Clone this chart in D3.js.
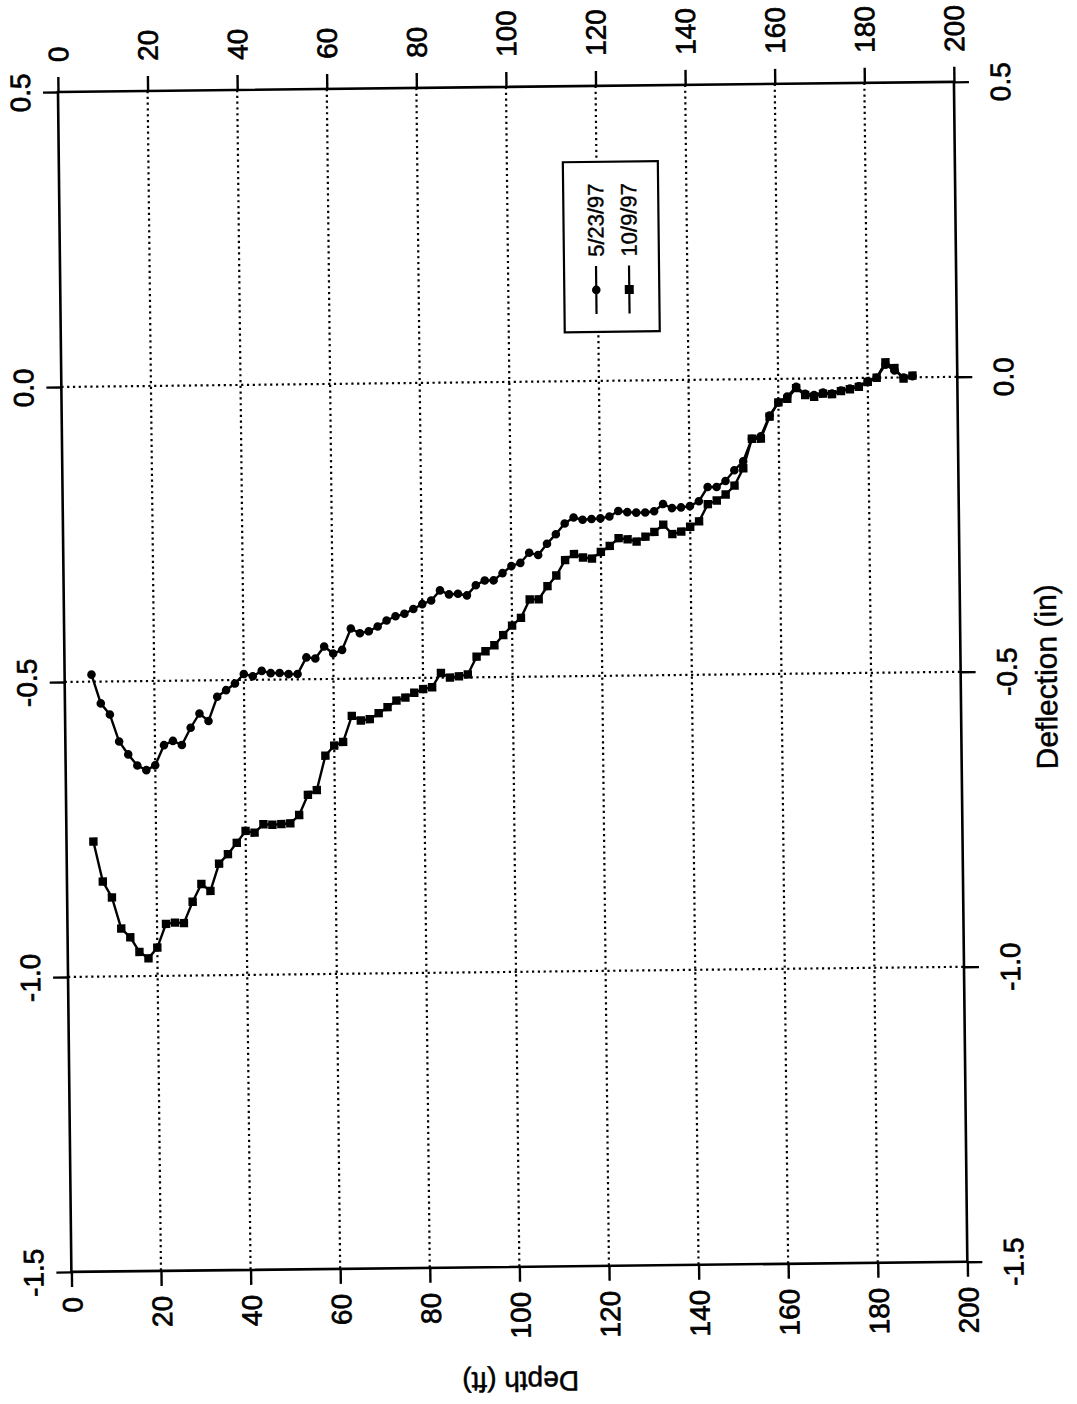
<!DOCTYPE html>
<html>
<head>
<meta charset="UTF-8">
<style>
  body { margin: 0; background: #fff; }
  svg { display: block; font-family: "Liberation Sans", Arial, sans-serif; }
</style>
</head>
<body>
<svg></svg>
<script src="https://d3js.org/d3.v7.min.js"></script>
<script>
// depth (ft) of each reading
const depth = [6, 8, 10, 12, 14, 16, 18, 20, 22, 24, 26, 28, 30, 32, 34, 36, 38, 40, 42, 44, 46, 48, 50, 52, 54,
  56, 58, 60, 62, 64, 66, 68, 70, 72, 74, 76, 78, 80, 82, 84, 86, 88, 90, 92, 94, 96, 98, 100, 102, 104, 106, 108, 110,
  112, 114, 116, 118, 120, 122, 124, 126, 128, 130, 132, 134, 136, 138, 140, 142, 144, 146, 148, 150, 152, 154, 156, 158,
  160, 162, 164, 166, 168, 170, 172, 174, 176, 178, 180, 182, 184, 186, 188, 190];

// deflection (in), 5/23/97
const defl0523 = [-0.488, -0.537, -0.556, -0.602, -0.624, -0.643, -0.651, -0.643, -0.609, -0.602, -0.609, -0.580, -0.556,
  -0.569, -0.528, -0.517, -0.506, -0.490, -0.494, -0.485, -0.489, -0.489, -0.491, -0.491, -0.463,
  -0.465, -0.445, -0.457, -0.451, -0.415, -0.423, -0.420, -0.412, -0.402, -0.395, -0.391, -0.383, -0.375, -0.369,
  -0.352, -0.359, -0.358, -0.361, -0.344, -0.336, -0.336, -0.324, -0.312, -0.307, -0.290, -0.294, -0.275, -0.259,
  -0.241, -0.231, -0.235, -0.234, -0.233, -0.230, -0.221, -0.223, -0.224, -0.224, -0.222, -0.210, -0.217, -0.216,
  -0.214, -0.206, -0.182, -0.182, -0.172, -0.154, -0.139, -0.101, -0.097, -0.062,
  -0.040, -0.030, -0.014, -0.026, -0.028, -0.024, -0.026, -0.021, -0.018, -0.014, -0.006, 0.000, 0.022, 0.012, 0.000, 0.002];

// deflection (in), 10/9/97
const defl1009 = [-0.771, -0.839, -0.866, -0.919, -0.934, -0.959, -0.970, -0.952, -0.912, -0.910, -0.911, -0.875, -0.845,
  -0.857, -0.811, -0.795, -0.776, -0.756, -0.759, -0.745, -0.746, -0.745, -0.744, -0.730, -0.696,
  -0.688, -0.630, -0.613, -0.607, -0.563, -0.571, -0.569, -0.559, -0.549, -0.538, -0.533, -0.525, -0.519, -0.516,
  -0.492, -0.500, -0.498, -0.495, -0.465, -0.456, -0.446, -0.429, -0.413, -0.400, -0.369, -0.369, -0.347, -0.329,
  -0.303, -0.293, -0.299, -0.301, -0.290, -0.280, -0.267, -0.269, -0.273, -0.265, -0.257, -0.245, -0.261, -0.257,
  -0.249, -0.240, -0.211, -0.205, -0.195, -0.180, -0.151, -0.101, -0.101, -0.064,
  -0.040, -0.034, -0.016, -0.028, -0.031, -0.026, -0.027, -0.022, -0.019, -0.015, -0.007, 0.000, 0.026, 0.016, -0.002, 0.003];

const seriesNames = ["5/23/97", "10/9/97"];
const depthTicks = [0, 20, 40, 60, 80, 100, 120, 140, 160, 180, 200];
const deflTicks = [0.5, 0.0, -0.5, -1.0, -1.5];
const depthGrid = [20, 40, 60, 80, 100, 120, 140, 160, 180];
const deflGrid = [0.0, -0.5, -1.0];

const width = 1077, height = 1404;
const W = 896, H = 1180;

const svg = d3.select("svg").attr("width", width).attr("height", height);
svg.append("rect").attr("width", width).attr("height", height).attr("fill", "#fff");

// the scanned page is slightly tilted
const g = svg.append("g").attr("transform", "translate(58,92) rotate(-0.65)");

const x = d3.scaleLinear().domain([0, 200]).range([0, W]);
const y = d3.scaleLinear().domain([-1.5, 0.5]).range([H, 0]);

// dotted grid
g.append("g").selectAll("line")
  .data(depthGrid).enter().append("line")
  .attr("x1", d => x(d)).attr("x2", d => x(d))
  .attr("y1", 0).attr("y2", H)
  .attr("stroke", "#000").attr("stroke-width", 2.2)
  .attr("stroke-dasharray", "2.2,3.6");
g.append("g").selectAll("line")
  .data(deflGrid).enter().append("line")
  .attr("x1", 0).attr("x2", W)
  .attr("y1", d => y(d)).attr("y2", d => y(d))
  .attr("stroke", "#000").attr("stroke-width", 2.2)
  .attr("stroke-dasharray", "2.2,3.6");

// axes (ticks + rotated labels)
function styleAxis(sel, tx, ty, anchor, dy) {
  sel.select(".domain").remove();
  sel.selectAll(".tick line").attr("stroke", "#000").attr("stroke-width", 2.4);
  sel.selectAll(".tick text")
    .attr("x", 0).attr("y", 0).attr("dy", dy)
    .attr("transform", `translate(${tx},${ty}) rotate(-90)`)
    .attr("text-anchor", anchor)
    .attr("font-size", 28)
    .attr("font-family", "Liberation Sans, Arial, sans-serif")
    .attr("fill", "#000")
    .attr("stroke", "#000").attr("stroke-width", 0.7);
}

g.append("g").attr("transform", `translate(0,${H})`)
  .call(d3.axisBottom(x).tickValues(depthTicks).tickSize(15).tickFormat(d => d))
  .call(s => styleAxis(s, 0, 25, "end", "0.36em"));
g.append("g")
  .call(d3.axisTop(x).tickValues(depthTicks).tickSize(15).tickFormat(d => d))
  .call(s => styleAxis(s, 0, -30, "start", "0.36em"));
g.append("g")
  .call(d3.axisLeft(y).tickValues(deflTicks).tickSize(15).tickFormat(d => d.toFixed(1)))
  .call(s => styleAxis(s, -28, 0, "middle", "0"));
g.append("g").attr("transform", `translate(${W},0)`)
  .call(d3.axisRight(y).tickValues(deflTicks).tickSize(15).tickFormat(d => d.toFixed(1)))
  .call(s => styleAxis(s, 56, 0, "middle", "0"));

// frame
g.append("rect").attr("width", W).attr("height", H)
  .attr("fill", "none").attr("stroke", "#000").attr("stroke-width", 2.6);

// axis titles
g.append("text")
  .attr("transform", `translate(${W / 2},${H + 105}) rotate(180)`)
  .attr("text-anchor", "middle").attr("font-size", 28).attr("fill", "#000")
  .attr("stroke", "#000").attr("stroke-width", 0.5)
  .text("Depth (ft)");
g.append("text")
  .attr("transform", `translate(${W + 96},${H / 2 + 6}) rotate(-90)`)
  .attr("text-anchor", "middle").attr("font-size", 30).attr("fill", "#000")
  .attr("stroke", "#000").attr("stroke-width", 0.5)
  .text("Deflection (in)");

// series
const series = [
  { name: seriesNames[0], vals: defl0523, shape: "circle" },
  { name: seriesNames[1], vals: defl1009, shape: "square" }
];
const line = d3.line().x(d => x(d[0])).y(d => y(d[1]));

series.forEach(s => {
  const pts = depth.map((d, i) => [d, s.vals[i]]);
  g.append("path").datum(pts)
    .attr("d", line).attr("fill", "none")
    .attr("stroke", "#000").attr("stroke-width", 2.4);
  if (s.shape === "circle") {
    g.append("g").selectAll("circle").data(pts).enter().append("circle")
      .attr("cx", d => x(d[0])).attr("cy", d => y(d[1])).attr("r", 4.3)
      .attr("fill", "#000");
  } else {
    g.append("g").selectAll("rect").data(pts).enter().append("rect")
      .attr("x", d => x(d[0]) - 4.2).attr("y", d => y(d[1]) - 4.2)
      .attr("width", 8.4).attr("height", 8.4).attr("fill", "#000");
  }
});

// legend
const lg = g.append("g").attr("transform", "translate(504,76)");
lg.append("rect").attr("width", 95).attr("height", 170)
  .attr("fill", "#fff").attr("stroke", "#000").attr("stroke-width", 2.2);
series.forEach((s, i) => {
  const cx = 32 + i * 33;
  lg.append("line").attr("x1", cx).attr("x2", cx).attr("y1", 104).attr("y2", 152)
    .attr("stroke", "#000").attr("stroke-width", 2.2);
  if (s.shape === "circle") {
    lg.append("circle").attr("cx", cx).attr("cy", 128).attr("r", 4.3).attr("fill", "#000");
  } else {
    lg.append("rect").attr("x", cx - 4.5).attr("y", 123.5).attr("width", 9).attr("height", 9).attr("fill", "#000");
  }
  lg.append("text")
    .attr("transform", `translate(${cx},95) rotate(-90)`)
    .attr("dy", "0.36em").attr("text-anchor", "start")
    .attr("font-size", 22).attr("fill", "#000")
    .attr("stroke", "#000").attr("stroke-width", 0.4)
    .text(s.name);
});
</script>
</body>
</html>
